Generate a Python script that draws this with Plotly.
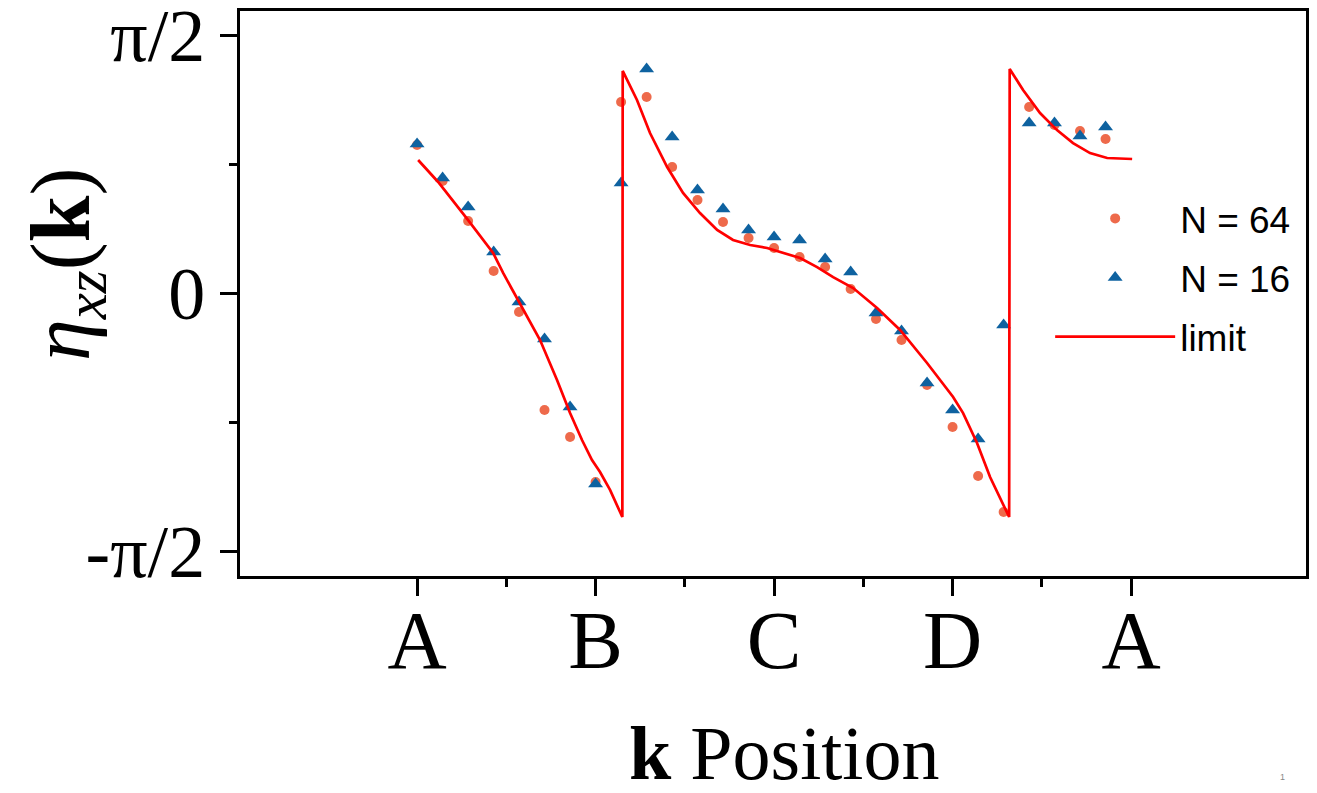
import math
import plotly.graph_objects as go

# ---- data (radians) ----
k_points = [0.000, 0.143, 0.286, 0.429, 0.571, 0.714, 0.857,
            1.000, 1.143, 1.286, 1.429, 1.571, 1.714, 1.857,
            2.000, 2.143, 2.286, 2.429, 2.571, 2.714, 2.857,
            3.000, 3.143, 3.286, 3.429, 3.571, 3.714, 3.857]

eta_n64 = [0.901, 0.682, 0.438, 0.134, -0.116, -0.712, -0.877,
           -1.151, 1.163, 1.193, 0.767, 0.566, 0.432, 0.335,
           0.274, 0.219, 0.158, 0.024, -0.158, -0.286, -0.560,
           -0.816, -1.114, -1.333, 1.132, 1.023, 0.986, 0.938]

eta_n16 = [0.907, 0.700, 0.524, 0.250, -0.055, -0.280, -0.694,
           -1.163, 0.670, 1.364, 0.950, 0.627, 0.511, 0.384,
           0.341, 0.323, 0.207, 0.128, -0.122, -0.231, -0.548,
           -0.712, -0.889, -0.195, 1.035, 1.035, 0.956, 1.011]

k_limit = [0.006, 0.118, 0.286, 0.426, 0.482, 0.571, 0.689, 0.784, 0.857,
           0.924, 0.980, 1.025, 1.081, 1.150, 1.152, 1.232, 1.305, 1.401,
           1.490, 1.585, 1.681, 1.770, 1.866, 1.961, 2.050, 2.146, 2.241,
           2.331, 2.443, 2.577, 2.706, 2.857, 3.003, 3.059, 3.137, 3.210,
           3.317, 3.320, 3.395, 3.490, 3.585, 3.675, 3.770, 3.866, 4.006]
eta_limit = [0.810, 0.676, 0.444, 0.244, 0.122, -0.055, -0.286, -0.530, -0.731,
             -0.895, -1.017, -1.090, -1.199, -1.364, 1.352, 1.175, 0.974, 0.767,
             0.609, 0.487, 0.384, 0.323, 0.292, 0.274, 0.244, 0.213, 0.158,
             0.097, 0.030, -0.091, -0.225, -0.426, -0.633, -0.731, -0.913, -1.120,
             -1.364, 1.364, 1.236, 1.096, 0.992, 0.913, 0.852, 0.822, 0.816]

x_tickvals = [0, 1, 2, 3, 4]
x_ticktext = ["A", "B", "C", "D", "A"]
x_minor = [0.5, 1.5, 2.5, 3.5]
y_tickvals = [-math.pi / 2, 0, math.pi / 2]
y_ticktext = ["-π/2", "0", "π/2"]
y_minor = [-math.pi / 4, math.pi / 4]

SERIF = "Liberation Serif, Times New Roman, serif"
SANS = "Liberation Sans, Arial, sans-serif"

fig = go.Figure()
fig.add_trace(go.Scatter(
    x=k_points, y=eta_n64, mode="markers", name="N = 64", legendgroup="a",
    marker=dict(symbol="circle", size=10, color="#EE6A4B", line=dict(width=0)),
))
fig.add_trace(go.Scatter(
    x=k_points, y=eta_n16, mode="markers", name="N = 16", legendgroup="b",
    marker=dict(symbol="triangle-up", size=13, color="#0E62A0", line=dict(width=0)),
))
fig.add_trace(go.Scatter(
    x=k_limit, y=eta_limit, mode="lines", name="limit", legendgroup="c",
    line=dict(color="#FF0000", width=2.7),
))

# The page body has an 8px margin; the figure is sized so it fits the window exactly.
fig.update_layout(
    width=1301, height=777,
    paper_bgcolor="white", plot_bgcolor="white",
    margin=dict(l=232, r=3, t=3, b=209),
    showlegend=True,
    legend=dict(
        x=0.760, y=0.687, xanchor="left", yanchor="top",
        bgcolor="rgba(0,0,0,0)", font=dict(family=SANS, size=37, color="black"),
        itemwidth=120, tracegroupgap=8,
    ),
    xaxis=dict(
        range=[-0.992, 4.980], showgrid=False, zeroline=False, automargin=False,
        showline=True, mirror=True, linecolor="black", linewidth=3,
        tickmode="array", tickvals=x_tickvals, ticktext=x_ticktext,
        ticks="outside", ticklen=17, tickwidth=2.5, tickcolor="black",
        tickfont=dict(family=SERIF, size=82, color="black"),
        ticklabelstandoff=-26, ticklabeloverflow="allow",
        minor=dict(tickmode="array", tickvals=x_minor, ticks="outside",
                   ticklen=8, tickwidth=2.5, tickcolor="black"),
    ),
    yaxis=dict(
        range=[-1.723, 1.717], showgrid=False, zeroline=False, automargin=False,
        showline=True, mirror=True, linecolor="black", linewidth=3,
        tickmode="array", tickvals=y_tickvals, ticktext=y_ticktext,
        ticks="outside", ticklen=17, tickwidth=2.5, tickcolor="black",
        tickfont=dict(family=SERIF, size=74, color="black"),
        ticklabelstandoff=0, ticklabeloverflow="allow",
        minor=dict(tickmode="array", tickvals=y_minor, ticks="outside",
                   ticklen=8, tickwidth=2.5, tickcolor="black"),
    ),
    annotations=[
        dict(text="<i>η</i><sub><i>xz</i></sub>(<b>k</b>)", xref="paper", yref="paper",
             x=-0.163, y=0.551, xanchor="center", yanchor="middle", textangle=-90,
             showarrow=False, font=dict(family=SERIF, size=84, color="black")),
        dict(text="<b>k</b> Position", xref="paper", yref="paper",
             x=0.510, y=-0.313, xanchor="center", yanchor="middle",
             showarrow=False, font=dict(family=SERIF, size=76, color="black")),
        dict(text="1", xref="paper", yref="paper", x=0.978, y=-0.356,
             xanchor="center", yanchor="middle",
             showarrow=False, font=dict(family=SANS, size=9, color="#888888")),
    ],
)

fig.write_html("out.html")
